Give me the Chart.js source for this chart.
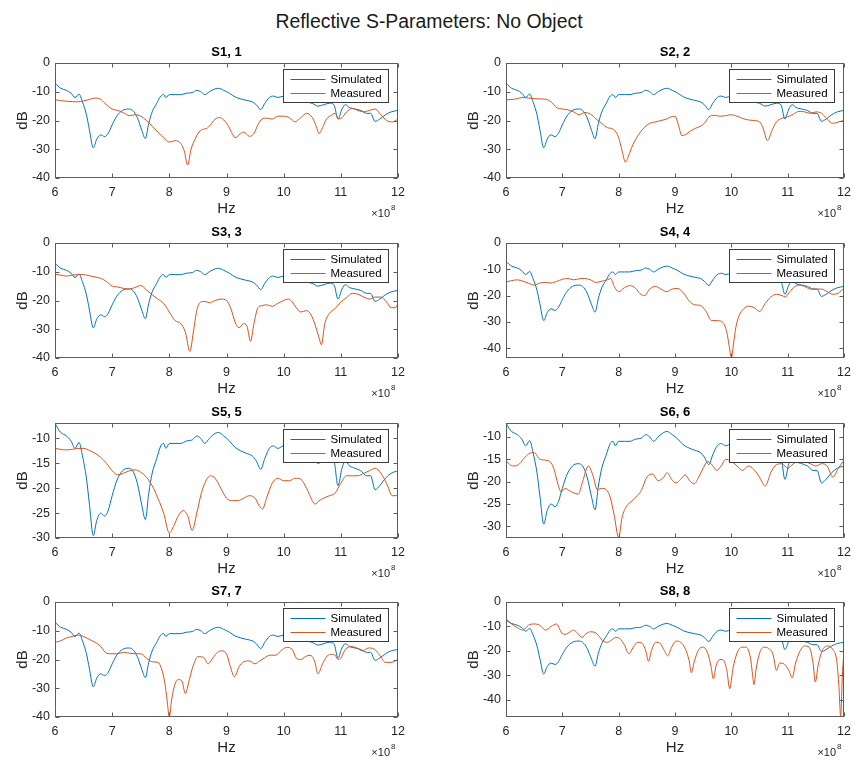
<!DOCTYPE html>
<html>
<head>
<meta charset="utf-8">
<script src="https://cdn.jsdelivr.net/npm/chart.js@4.4.1/dist/chart.umd.min.js"></script>
<style>
  html, body { margin: 0; padding: 0; background: #ffffff; }
  #page { position: relative; width: 858px; height: 760px; overflow: hidden;
          font-family: 'Liberation Sans', Arial, Helvetica, sans-serif; }
  #suptitle { position: absolute; left: 0; top: 9px; width: 858px; text-align: center;
              font-size: 19.4px; line-height: 24px; color: #1a1a1a; }
  canvas { position: absolute; }
</style>
</head>
<body>
<div id="page">
  <div id="suptitle">Reflective S-Parameters: No Object</div>
</div>
<script>
// Frequencies are in units of 1e8 Hz (axis shows the x10^8 multiplier).
const xTicks = [6, 7, 8, 9, 10, 11, 12];

// Simulated reflection (identical for every port)
const simFreq = [6.00,6.05,6.10,6.20,6.28,6.35,6.42,6.48,6.55,6.60,6.67,6.73,6.80,6.87,6.93,7.00,7.08,7.18,7.28,7.36,7.44,7.52,7.58,7.64,7.70,7.78,7.85,7.90,7.94,8.00,8.10,8.20,8.30,8.40,8.48,8.55,8.62,8.70,8.80,8.86,8.95,9.05,9.15,9.25,9.35,9.45,9.52,9.60,9.67,9.75,9.82,9.90,10.00,10.10,10.20,10.35,10.50,10.60,10.70,10.80,10.88,10.95,11.02,11.08,11.15,11.25,11.35,11.45,11.52,11.60,11.68,11.78,11.88,12.00];
const simDb   = [-6.9,-8.0,-8.8,-9.5,-10.5,-12.0,-10.8,-13.5,-18.0,-23.0,-29.5,-26.5,-25.0,-25.6,-24.5,-21.5,-18.5,-16.5,-16.0,-16.5,-19.0,-23.5,-26.3,-21.0,-17.0,-14.0,-11.5,-11.0,-12.0,-11.0,-11.0,-11.0,-10.5,-10.3,-9.5,-10.0,-11.0,-10.0,-9.0,-8.8,-9.5,-10.5,-11.8,-12.5,-13.0,-13.5,-14.5,-16.2,-14.0,-12.0,-11.5,-12.0,-11.5,-12.5,-13.0,-13.5,-14.0,-15.0,-14.5,-14.0,-14.5,-19.5,-16.0,-14.5,-15.5,-16.0,-16.5,-17.5,-17.5,-20.3,-19.5,-18.0,-17.0,-16.5];

// Measured reflection, port by port
const s11Freq = [6.0,6.2,6.4,6.5,6.6,6.7,6.78,6.88,7.0,7.1,7.2,7.3,7.4,7.5,7.6,7.7,7.8,7.9,8.0,8.1,8.2,8.26,8.32,8.38,8.45,8.52,8.6,8.65,8.72,8.8,8.88,8.95,9.02,9.1,9.15,9.22,9.3,9.4,9.48,9.55,9.62,9.7,9.8,9.9,10.0,10.1,10.2,10.3,10.4,10.5,10.56,10.62,10.68,10.75,10.85,10.9,10.96,11.02,11.1,11.2,11.3,11.4,11.5,11.6,11.7,11.8,11.9,12.0];
const s11Db   = [-12.8,-13.3,-13.5,-13.2,-12.7,-12.2,-12.4,-14.2,-16.0,-16.5,-17.3,-18.3,-18.0,-18.5,-20.0,-22.0,-24.0,-26.0,-27.5,-27.0,-28.0,-30.5,-35.5,-30.0,-26.5,-24.0,-23.0,-22.8,-21.5,-19.5,-19.0,-19.8,-21.5,-24.5,-26.0,-25.0,-24.0,-25.5,-24.5,-21.5,-19.5,-19.2,-19.5,-18.5,-18.5,-19.0,-20.5,-19.0,-17.5,-19.0,-21.5,-24.5,-22.5,-19.5,-18.0,-17.5,-19.5,-19.0,-17.0,-15.8,-16.5,-17.0,-16.5,-16.0,-18.0,-20.0,-20.5,-19.5];

const s22Freq = [6.0,6.15,6.3,6.4,6.5,6.6,6.7,6.8,6.9,7.0,7.1,7.2,7.3,7.4,7.5,7.6,7.7,7.8,7.9,8.0,8.06,8.12,8.18,8.25,8.35,8.45,8.55,8.65,8.75,8.85,8.92,9.0,9.06,9.12,9.18,9.25,9.35,9.45,9.52,9.6,9.7,9.8,9.9,10.0,10.1,10.2,10.3,10.4,10.5,10.56,10.64,10.72,10.8,10.9,11.0,11.1,11.2,11.3,11.4,11.5,11.6,11.7,11.8,11.9,12.0];
const s22Db   = [-12.8,-12.6,-12.0,-12.2,-12.4,-12.5,-12.6,-13.5,-15.5,-16.0,-16.3,-17.0,-18.0,-17.2,-17.8,-19.5,-21.0,-22.5,-23.0,-26.0,-30.5,-34.5,-32.0,-28.5,-25.0,-22.5,-21.0,-20.5,-20.0,-19.5,-18.8,-18.5,-21.5,-25.2,-25.0,-24.0,-22.8,-22.0,-21.0,-18.8,-18.2,-18.5,-18.3,-18.0,-18.5,-19.3,-19.8,-20.0,-20.5,-22.5,-27.0,-23.5,-20.5,-19.2,-18.7,-17.8,-16.8,-17.0,-17.5,-17.0,-17.5,-19.5,-21.0,-20.5,-20.0];

const s33Freq = [6.0,6.1,6.2,6.3,6.4,6.5,6.6,6.7,6.8,6.9,7.0,7.1,7.2,7.3,7.4,7.5,7.6,7.7,7.8,7.9,8.0,8.1,8.2,8.28,8.36,8.42,8.48,8.55,8.62,8.7,8.8,8.9,9.0,9.08,9.15,9.22,9.3,9.36,9.42,9.48,9.55,9.62,9.7,9.8,9.9,10.0,10.08,10.15,10.22,10.3,10.4,10.48,10.55,10.62,10.66,10.72,10.8,10.9,11.0,11.1,11.2,11.3,11.4,11.5,11.6,11.7,11.8,11.88,11.95,12.0];
const s33Db   = [-10.8,-11.2,-11.5,-11.2,-11.0,-11.0,-11.4,-11.8,-12.3,-13.4,-15.0,-15.3,-15.8,-16.0,-15.5,-14.8,-16.3,-18.0,-19.5,-21.0,-24.0,-27.0,-28.0,-31.0,-37.7,-31.0,-23.5,-20.5,-20.3,-20.8,-20.0,-19.5,-20.0,-23.0,-27.5,-29.5,-28.0,-29.0,-34.2,-28.0,-22.5,-21.8,-21.5,-22.0,-21.0,-20.0,-19.5,-20.5,-22.5,-24.0,-23.5,-25.0,-28.5,-33.0,-35.4,-28.0,-24.5,-22.8,-20.5,-19.0,-17.5,-17.8,-18.8,-19.5,-18.8,-18.8,-20.5,-22.5,-22.5,-21.0];

const s44Freq = [6.0,6.1,6.2,6.3,6.4,6.5,6.6,6.7,6.8,6.9,7.0,7.1,7.2,7.3,7.4,7.5,7.6,7.7,7.8,7.86,7.92,8.0,8.1,8.2,8.3,8.38,8.46,8.55,8.65,8.75,8.85,8.95,9.05,9.15,9.25,9.35,9.45,9.55,9.65,9.75,9.85,9.92,9.96,10.0,10.04,10.08,10.14,10.22,10.3,10.4,10.5,10.6,10.7,10.8,10.9,10.96,11.02,11.1,11.2,11.3,11.4,11.5,11.6,11.7,11.8,11.9,12.0];
const s44Db   = [-14.8,-14.3,-14.0,-14.5,-15.3,-16.0,-15.2,-15.0,-15.2,-14.6,-13.8,-13.5,-14.0,-13.6,-13.5,-14.0,-15.0,-14.5,-14.0,-13.5,-16.5,-18.5,-17.0,-16.2,-17.2,-19.3,-20.0,-17.5,-16.5,-17.5,-18.5,-17.5,-17.3,-19.0,-22.0,-23.5,-23.7,-26.0,-29.5,-29.5,-30.2,-34.0,-39.0,-43.5,-38.0,-32.0,-27.5,-25.0,-24.0,-24.5,-26.0,-23.0,-20.5,-19.5,-20.0,-20.5,-19.0,-17.0,-16.0,-16.5,-17.5,-17.5,-17.5,-18.5,-19.5,-19.0,-17.0];

const s55Freq = [6.0,6.1,6.2,6.3,6.4,6.5,6.6,6.7,6.8,6.9,7.0,7.1,7.2,7.3,7.4,7.5,7.6,7.7,7.8,7.9,8.0,8.08,8.16,8.24,8.32,8.4,8.48,8.56,8.64,8.72,8.8,8.9,9.0,9.1,9.2,9.3,9.4,9.5,9.57,9.63,9.7,9.8,9.9,10.0,10.1,10.2,10.3,10.4,10.5,10.55,10.62,10.7,10.8,10.9,11.0,11.1,11.2,11.3,11.4,11.5,11.6,11.7,11.8,11.9,12.0];
const s55Db   = [-12.0,-12.2,-12.3,-12.2,-12.0,-12.0,-12.4,-13.0,-13.8,-15.0,-16.5,-17.3,-17.0,-16.5,-16.3,-16.8,-17.8,-19.5,-22.0,-25.0,-29.0,-27.5,-25.5,-24.5,-25.5,-28.5,-25.0,-21.0,-18.5,-17.5,-18.0,-20.0,-22.0,-22.5,-22.5,-22.0,-21.5,-22.0,-23.5,-24.2,-22.0,-19.0,-18.0,-18.5,-18.5,-18.0,-18.2,-20.0,-22.5,-23.2,-22.5,-22.0,-21.5,-21.0,-19.0,-17.5,-17.5,-17.5,-17.0,-16.5,-16.0,-17.0,-19.0,-21.5,-21.5];

const s66Freq = [6.0,6.08,6.16,6.24,6.32,6.4,6.5,6.6,6.7,6.8,6.86,6.92,6.98,7.05,7.12,7.2,7.28,7.36,7.46,7.54,7.62,7.7,7.78,7.85,7.92,8.0,8.06,8.14,8.22,8.3,8.4,8.5,8.6,8.7,8.8,8.86,8.94,9.02,9.1,9.18,9.26,9.34,9.42,9.5,9.58,9.66,9.74,9.82,9.9,10.0,10.1,10.2,10.3,10.4,10.5,10.6,10.7,10.8,10.9,11.0,11.1,11.2,11.3,11.4,11.5,11.6,11.7,11.8,11.9,12.0];
const s66Db   = [-15.3,-16.3,-16.5,-16.0,-14.8,-13.8,-13.5,-15.0,-15.2,-15.8,-17.5,-20.5,-22.3,-21.5,-22.0,-22.5,-22.8,-20.0,-16.5,-18.5,-21.8,-21.5,-21.8,-23.5,-27.5,-32.5,-28.0,-25.5,-24.5,-23.5,-22.0,-19.0,-18.3,-19.8,-19.0,-18.0,-19.5,-20.3,-19.5,-18.5,-19.8,-20.5,-19.0,-17.0,-15.5,-16.3,-17.5,-16.5,-15.0,-15.5,-16.5,-17.5,-16.5,-17.3,-19.0,-21.0,-18.0,-16.2,-16.0,-17.0,-16.0,-15.5,-15.5,-16.0,-16.5,-16.0,-16.5,-19.0,-17.0,-15.2];

const s77Freq = [6.0,6.1,6.2,6.3,6.4,6.5,6.6,6.7,6.8,6.9,7.0,7.1,7.2,7.3,7.4,7.5,7.6,7.7,7.8,7.86,7.92,7.96,8.0,8.04,8.1,8.16,8.22,8.28,8.35,8.42,8.5,8.6,8.68,8.76,8.84,8.92,9.0,9.06,9.14,9.22,9.3,9.4,9.5,9.58,9.66,9.76,9.86,9.95,10.05,10.15,10.22,10.3,10.38,10.46,10.54,10.6,10.68,10.76,10.84,10.9,10.95,11.0,11.08,11.18,11.28,11.38,11.48,11.58,11.68,11.78,11.88,12.0];
const s77Db   = [-14.0,-13.5,-12.5,-12.0,-11.5,-12.0,-13.0,-14.0,-15.5,-17.8,-18.0,-18.0,-17.5,-17.8,-18.0,-18.0,-19.5,-20.8,-21.0,-23.0,-28.0,-34.0,-40.0,-34.0,-28.5,-27.0,-27.5,-31.8,-27.0,-22.0,-19.0,-19.3,-21.5,-19.5,-17.5,-17.0,-18.0,-22.0,-26.0,-22.5,-20.8,-20.5,-21.5,-20.5,-19.5,-18.5,-18.5,-17.0,-15.8,-16.5,-19.5,-20.0,-19.0,-18.5,-20.5,-25.0,-21.5,-18.8,-18.2,-18.5,-20.0,-19.5,-16.5,-15.5,-16.0,-17.0,-16.0,-16.3,-18.5,-21.0,-21.0,-20.0];

const s88Freq = [6.0,6.1,6.2,6.3,6.4,6.5,6.6,6.7,6.8,6.9,6.95,7.0,7.05,7.12,7.2,7.28,7.35,7.42,7.5,7.58,7.65,7.72,7.8,7.88,7.95,8.02,8.1,8.18,8.26,8.34,8.42,8.48,8.53,8.58,8.66,8.74,8.8,8.87,8.94,9.02,9.1,9.18,9.25,9.29,9.34,9.42,9.5,9.58,9.64,9.68,9.73,9.8,9.86,9.92,9.97,10.03,10.1,10.18,10.26,10.34,10.37,10.4,10.44,10.5,10.58,10.66,10.74,10.8,10.86,10.94,11.02,11.08,11.14,11.22,11.3,11.38,11.45,11.49,11.54,11.62,11.72,11.8,11.87,11.91,11.94,11.97,12.0];
const s88Db   = [-7.5,-9.0,-10.5,-11.5,-9.5,-9.0,-9.5,-11.5,-10.0,-9.0,-11.0,-13.0,-13.2,-12.5,-11.5,-13.0,-14.5,-13.0,-12.2,-12.5,-14.0,-16.0,-16.5,-15.5,-14.5,-15.0,-17.5,-21.2,-18.5,-16.5,-17.0,-20.0,-24.3,-20.0,-16.5,-17.0,-19.5,-22.0,-18.5,-16.0,-16.5,-19.0,-24.0,-29.0,-24.5,-19.5,-18.5,-21.0,-26.5,-31.5,-26.0,-23.5,-23.8,-28.0,-35.5,-27.0,-21.0,-18.5,-18.5,-23.0,-28.5,-33.8,-27.5,-21.0,-18.5,-19.0,-21.5,-28.0,-25.0,-25.5,-28.0,-31.0,-25.0,-20.0,-18.0,-18.5,-25.0,-32.8,-26.0,-19.5,-18.0,-19.5,-24.0,-35.0,-47.0,-30.0,-20.0];

const panelTitles = ['S1, 1', 'S2, 2', 'S3, 3', 'S4, 4', 'S5, 5', 'S6, 6', 'S7, 7', 'S8, 8'];
const measFreqs = [s11Freq, s22Freq, s33Freq, s44Freq, s55Freq, s66Freq, s77Freq, s88Freq];
const measDbs   = [s11Db, s22Db, s33Db, s44Db, s55Db, s66Db, s77Db, s88Db];
const yLimits = [[-40, 0], [-40, 0], [-40, 0], [-43.7, 0], [-30, -6.9], [-32.6, -6.9], [-40, 0], [-47.1, 0]];
const yTickSets = [
  [-40, -30, -20, -10, 0], [-40, -30, -20, -10, 0], [-40, -30, -20, -10, 0], [-40, -30, -20, -10, 0],
  [-30, -25, -20, -15, -10], [-30, -25, -20, -15, -10], [-40, -30, -20, -10, 0], [-40, -30, -20, -10, 0]
];

const SIM_COLOR = '#0072BD';
const MEAS_COLOR = '#D95319';
const TEXT_COLOR = '#262626';
const FONT = "'Liberation Sans', Arial, Helvetica, sans-serif";

Chart.defaults.font.family = FONT;
Chart.defaults.color = TEXT_COLOR;

// Box, inward tick marks, panel labels and the legend, in the style of a MATLAB axes.
const axesDecor = {
  id: 'axesDecor',
  afterDraw(chart, args, opts) {
    const { ctx, chartArea: a } = chart;
    const xs = chart.scales.x, ys = chart.scales.y;
    const L = Math.round(a.left) + 0.5, R = Math.round(a.right) - 0.5;
    const T = Math.round(a.top) + 0.5, B = Math.round(a.bottom) - 0.5;
    ctx.save();
    ctx.strokeStyle = '#5c5c5c';
    ctx.lineWidth = 1;
    ctx.strokeRect(L, T, R - L, B - T);
    ctx.beginPath();
    xs.ticks.forEach(t => {
      const p = Math.round(xs.getPixelForValue(t.value)) + 0.5;
      ctx.moveTo(p, B); ctx.lineTo(p, B - 4);
      ctx.moveTo(p, T); ctx.lineTo(p, T + 4);
    });
    ys.ticks.forEach(t => {
      const p = Math.round(ys.getPixelForValue(t.value)) + 0.5;
      ctx.moveTo(L, p); ctx.lineTo(L + 4, p);
      ctx.moveTo(R, p); ctx.lineTo(R - 4, p);
    });
    ctx.stroke();

    const cx = (a.left + a.right) / 2;
    ctx.textAlign = 'center';
    ctx.textBaseline = 'middle';
    ctx.fillStyle = '#000000';
    ctx.font = 'bold 13px ' + FONT;
    ctx.fillText(opts.title, cx, a.top - 11);

    ctx.fillStyle = TEXT_COLOR;
    ctx.font = '15px ' + FONT;
    ctx.fillText('Hz', cx, a.bottom + 31);
    ctx.save();
    ctx.translate(a.left - 32, (a.top + a.bottom) / 2);
    ctx.rotate(-Math.PI / 2);
    ctx.fillText('dB', 0, 0);
    ctx.restore();

    // x10^8 multiplier under the right end of the x axis
    ctx.font = '11px ' + FONT;
    ctx.textAlign = 'right';
    ctx.fillText('\u00d710', a.right - 8, a.bottom + 36);
    ctx.font = '8px ' + FONT;
    ctx.textAlign = 'left';
    ctx.fillText('8', a.right - 7, a.bottom + 30);

    // legend
    const w = 105, h = 33;
    const bx = Math.round(a.right - 10 - w) + 0.5, by = Math.round(a.top + 6) + 0.5;
    ctx.fillStyle = '#ffffff';
    ctx.fillRect(bx, by, w, h);
    ctx.strokeStyle = '#3a3a3a';
    ctx.strokeRect(bx, by, w, h);
    ctx.font = '11.5px ' + FONT;
    ctx.textAlign = 'left';
    ctx.textBaseline = 'middle';
    chart.data.datasets.forEach((ds, i) => {
      const ry = by + 10 + i * 14;
      ctx.strokeStyle = ds.borderColor;
      ctx.lineWidth = 1;
      ctx.beginPath();
      ctx.moveTo(bx + 7, ry); ctx.lineTo(bx + 42, ry);
      ctx.stroke();
      ctx.fillStyle = '#000000';
      ctx.fillText(ds.label, bx + 47, ry + 0.5);
    });
    ctx.restore();
  }
};

function toPoints(f, d) { return f.map((v, i) => ({ x: v, y: d[i] })); }

const rowTops = [63, 243, 423, 602];
const page = document.getElementById('page');

panelTitles.forEach((title, k) => {
  const col = k % 2, row = Math.floor(k / 2);
  const canvas = document.createElement('canvas');
  canvas.width = 429; canvas.height = 180;
  canvas.style.left = (col * 429) + 'px';
  canvas.style.top = (rowTops[row] - 26) + 'px';
  canvas.style.width = '429px'; canvas.style.height = '180px';
  page.appendChild(canvas);

  const yt = yTickSets[k];
  new Chart(canvas, {
    type: 'line',
    data: {
      datasets: [
        { label: 'Simulated', data: toPoints(simFreq, simDb), borderColor: SIM_COLOR,
          borderWidth: 1, pointRadius: 0, cubicInterpolationMode: 'monotone', order: 1 },
        { label: 'Measured', data: toPoints(measFreqs[k], measDbs[k]), borderColor: MEAS_COLOR,
          borderWidth: 1, pointRadius: 0, cubicInterpolationMode: 'monotone', order: 0 }
      ]
    },
    options: {
      responsive: false,
      animation: false,
      devicePixelRatio: 1,
      layout: { padding: { left: col === 0 ? 10 : 32, right: col === 0 ? 31 : 10, top: 26, bottom: 9 } },
      plugins: {
        legend: { display: false },
        tooltip: { enabled: false },
        axesDecor: { title: title }
      },
      scales: {
        x: {
          type: 'linear', min: 6, max: 12,
          grid: { display: false, drawTicks: false },
          border: { display: false },
          afterBuildTicks: s => { s.ticks = xTicks.map(v => ({ value: v })); },
          afterFit: s => { s.height = 30; },
          ticks: { font: { size: 12.5 }, color: TEXT_COLOR, padding: 7, maxRotation: 0, autoSkip: false }
        },
        y: {
          type: 'linear', min: yLimits[k][0], max: yLimits[k][1],
          grid: { display: false, drawTicks: false },
          border: { display: false },
          afterBuildTicks: s => { s.ticks = yt.map(v => ({ value: v })); },
          afterFit: s => { s.width = 45; },
          ticks: { font: { size: 12.5 }, color: TEXT_COLOR, padding: 5, autoSkip: false }
        }
      }
    },
    plugins: [axesDecor]
  });
});
</script>
</body>
</html>
